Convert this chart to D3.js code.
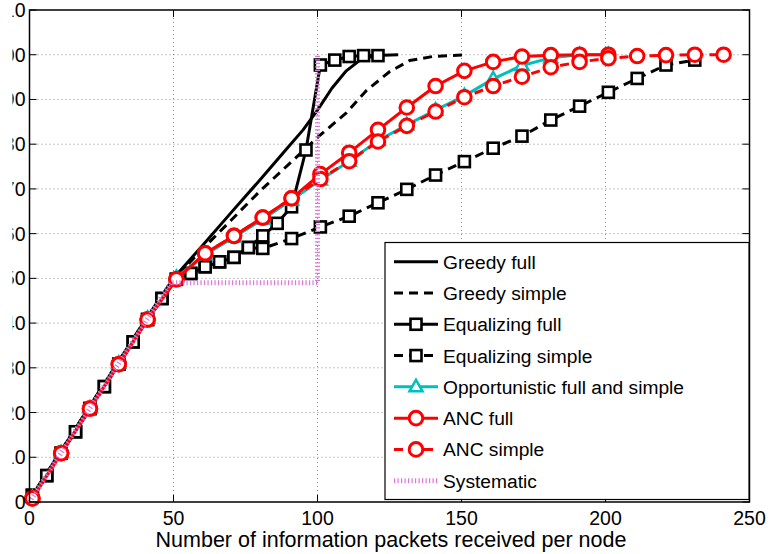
<!DOCTYPE html>
<html lang="en">
<head>
<meta charset="UTF-8" />
<title>Packets received per node</title>
<script src="https://cdn.jsdelivr.net/npm/d3@7"></script>
<style>
    body { margin: 0; background: #fff; overflow: hidden; }
    svg { font-family: "Liberation Sans", Arial, sans-serif; }
</style>
</head>
<body>
<svg id="chart" width="768" height="554"></svg>
<script>
    // ---- data ----
    const xTicks = [0, 50, 100, 150, 200, 250];
    const yTicks = [0, 10, 20, 30, 40, 50, 60, 70, 80, 90, 100, 110];

    const greedyFullX = [0, 10, 20, 30, 40, 50, 60, 70, 80, 90, 95, 100, 105, 110, 115, 120, 128];
    const greedyFullY = [0.5, 10.5, 20.5, 30.5, 40.5, 50, 57.3, 64.7, 72, 79.5, 83.2, 87.6, 92.5, 96.4, 98.9, 99.8, 100];

    const greedySimpleX = [0, 10, 20, 30, 40, 50, 60, 70, 80, 90, 100, 110, 117, 125, 132, 140, 152];
    const greedySimpleY = [0.5, 10.5, 20.5, 30.5, 40.5, 49.8, 56.5, 63, 69.5, 75.5, 81.5, 87, 92, 96.2, 98.7, 99.6, 100];

    const eqFullX = [1, 6, 11, 16, 21, 26, 31, 36, 41, 46, 51, 56, 61, 66, 71, 76, 81, 86, 91, 96, 101, 106, 111, 116, 121];
    const eqFullY = [1.5, 5.9, 10.9, 15.7, 20.9, 25.8, 30.8, 35.8, 40.8, 45.5, 49.8, 51.1, 52.6, 53.7, 54.7, 56.9, 59.5, 62.3, 66, 78.7, 97.7, 98.8, 99.6, 99.8, 99.8];

    const eqSimpleX = [1, 6, 11, 16, 21, 26, 31, 36, 41, 46, 51, 56, 61, 66, 71, 76,
        81, 91, 101, 111, 121, 131, 141, 151, 161, 171, 181, 191, 201, 211, 221, 231];
    const eqSimpleY = [1.5, 5.9, 10.9, 15.7, 20.9, 25.8, 30.8, 35.8, 40.8, 45.5, 49.8, 51.1, 52.6, 53.7, 54.7, 56.9,
        56.7, 58.9, 61.5, 63.9, 66.9, 69.9, 73.1, 76.1, 79.1, 81.8, 85.4, 88.5, 91.6, 94.7, 97.7, 98.8];

    const oppX = [1, 11, 21, 31, 41, 51, 61, 71, 81, 91, 101, 111, 121, 131, 141, 151, 161, 171, 181, 191, 201];
    const oppY = [1, 11, 21, 31, 41, 50.2, 55.3, 59.2, 63.2, 67.5, 72, 76.2, 80.8, 84.3, 87.6, 90.8, 94.6, 97.6, 99.3, 100, 100];

    const ancFullX = [1, 11, 21, 31, 41, 51, 61, 71, 81, 91, 101, 111, 121, 131, 141, 151, 161, 171, 181, 191, 201];
    const ancFullY = [0.8, 10.9, 20.9, 30.8, 40.8, 49.8, 55.6, 59.5, 63.6, 67.9, 73.3, 78.1, 83.2, 88.2, 93, 96.4, 98.4, 99.6, 99.9, 100, 100];

    const ancSimpleX = [1, 11, 21, 31, 41, 51, 61, 71, 81, 91, 101, 111, 121, 131, 141, 151, 161, 171, 181, 191, 201, 211, 221, 231, 241];
    const ancSimpleY = [0.8, 10.9, 20.9, 30.8, 40.8, 49.8, 55.6, 59.5, 63.6, 67.9, 72.2, 76.2, 80.6, 84.1, 87.3, 90.5, 93, 95.1, 97.2, 98.4, 99.2, 99.7, 99.9, 100, 100];

    const systematicX = [0, 49, 100, 100];
    const systematicY = [0, 49, 49, 100];

    const seriesNames = ["Greedy full", "Greedy simple", "Equalizing full", "Equalizing simple",
        "Opportunistic full and simple", "ANC full", "ANC simple", "Systematic"];

    // ---- styles ----
    const DASH = "9,6";
    const CYAN = "#00bfbf";
    const RED = "#ff0000";
    const MAGENTA = "#dd77dd";

    const series = [
        { name: seriesNames[0], xs: greedyFullX, ys: greedyFullY, color: "#000", dash: null, marker: null },
        { name: seriesNames[1], xs: greedySimpleX, ys: greedySimpleY, color: "#000", dash: DASH, marker: null },
        { name: seriesNames[2], xs: eqFullX, ys: eqFullY, color: "#000", dash: null, marker: "square" },
        { name: seriesNames[3], xs: eqSimpleX, ys: eqSimpleY, color: "#000", dash: DASH, marker: "square" },
        { name: seriesNames[4], xs: oppX, ys: oppY, color: CYAN, dash: null, marker: "triangle" },
        { name: seriesNames[5], xs: ancFullX, ys: ancFullY, color: RED, dash: null, marker: "circle" },
        { name: seriesNames[6], xs: ancSimpleX, ys: ancSimpleY, color: RED, dash: DASH, marker: "circle" },
        { name: seriesNames[7], xs: systematicX, ys: systematicY, color: MAGENTA, dash: "1.2,2.3", marker: null, dotted: true }
    ];

    const W = 768, H = 554;
    const plot = { left: 29.5, right: 749.5, top: 10, bottom: 502 };

    const svg = d3.select("#chart");

    const x = d3.scaleLinear().domain([0, 250]).range([plot.left, plot.right]);
    const y = d3.scaleLinear().domain([0, 110]).range([plot.bottom, plot.top]);

    // grid
    const grid = svg.append("g");
    grid.selectAll(".gx").data(xTicks.slice(1, -1)).enter().append("line")
        .attr("x1", d => x(d)).attr("x2", d => x(d))
        .attr("y1", plot.top).attr("y2", plot.bottom)
        .attr("stroke", "#8a8a8a").attr("stroke-width", 1).attr("stroke-dasharray", "1,3");
    grid.selectAll(".gy").data(yTicks.slice(1, -1)).enter().append("line")
        .attr("y1", d => y(d)).attr("y2", d => y(d))
        .attr("x1", plot.left).attr("x2", plot.right)
        .attr("stroke", "#8a8a8a").attr("stroke-width", 1).attr("stroke-dasharray", "1,3");

    // series
    const line = d3.line().x(d => x(d[0])).y(d => y(d[1]));
    const lines = svg.append("g");

    function drawMarker(g, type, color, cx, cy) {
        if (type === "square") {
            g.append("rect").attr("x", cx - 5.5).attr("y", cy - 5.5)
                .attr("width", 11).attr("height", 11)
                .attr("fill", "#fff").attr("stroke", color).attr("stroke-width", 2.6);
        } else if (type === "circle") {
            g.append("circle").attr("cx", cx).attr("cy", cy).attr("r", 6.8)
                .attr("fill", "#fff").attr("stroke", color).attr("stroke-width", 3);
        } else if (type === "triangle") {
            g.append("path")
                .attr("d", `M${cx},${cy - 7}L${cx + 6.5},${cy + 4.5}L${cx - 6.5},${cy + 4.5}Z`)
                .attr("fill", "#fff").attr("stroke", color).attr("stroke-width", 2.5)
                .attr("stroke-linejoin", "miter");
        }
    }

    series.forEach(s => {
        const pts = s.xs.map((v, i) => [v, s.ys[i]]);
        lines.append("path")
            .attr("d", line(pts))
            .attr("fill", "none")
            .attr("stroke", s.color)
            .attr("stroke-width", s.dotted ? 5 : 3)
            .attr("stroke-dasharray", s.dash)
            .attr("stroke-linejoin", "round");
        if (s.marker) {
            const mg = lines.append("g");
            pts.forEach(p => drawMarker(mg, s.marker, s.color, x(p[0]), y(p[1])));
        }
    });

    // axes box + ticks
    const axes = svg.append("g");
    axes.append("rect")
        .attr("x", plot.left).attr("y", plot.top)
        .attr("width", plot.right - plot.left).attr("height", plot.bottom - plot.top)
        .attr("fill", "none").attr("stroke", "#000").attr("stroke-width", 1.5);

    xTicks.forEach(t => {
        axes.append("line").attr("x1", x(t)).attr("x2", x(t))
            .attr("y1", plot.bottom).attr("y2", plot.bottom - 7).attr("stroke", "#000");
        axes.append("line").attr("x1", x(t)).attr("x2", x(t))
            .attr("y1", plot.top).attr("y2", plot.top + 7).attr("stroke", "#000");
        axes.append("text").attr("x", x(t)).attr("y", 525)
            .attr("text-anchor", "middle").attr("font-size", 19.5).text(t);
    });

    // the left edge of the original figure was cut off, so the y labels are clipped
    svg.append("clipPath").attr("id", "yclip")
        .append("rect").attr("x", 12.5).attr("y", 0).attr("width", 40).attr("height", H);
    const ylab = axes.append("g").attr("clip-path", "url(#yclip)");
    yTicks.forEach(t => {
        axes.append("line").attr("y1", y(t)).attr("y2", y(t))
            .attr("x1", plot.left).attr("x2", plot.left + 7).attr("stroke", "#000");
        axes.append("line").attr("y1", y(t)).attr("y2", y(t))
            .attr("x1", plot.right).attr("x2", plot.right - 7).attr("stroke", "#000");
        ylab.append("text").attr("x", 25.5).attr("y", y(t) + 7)
            .attr("text-anchor", "end").attr("font-size", 19.5).text(t);
    });

    svg.append("text").attr("x", 391).attr("y", 547)
        .attr("text-anchor", "middle").attr("font-size", 21.5)
        .text("Number of information packets received per node");

    // legend
    const leg = svg.append("g");
    leg.append("rect").attr("x", 385).attr("y", 242.5).attr("width", 364).attr("height", 257)
        .attr("fill", "#fff").attr("stroke", "#000").attr("stroke-width", 1.2);
    const rowY = d3.scaleLinear().domain([0, 7]).range([261.7, 480.7]);
    series.forEach((s, i) => {
        const cy = rowY(i);
        leg.append("line").attr("x1", 394).attr("x2", 438).attr("y1", cy).attr("y2", cy)
            .attr("stroke", s.color).attr("stroke-width", s.dotted ? 5 : 3)
            .attr("stroke-dasharray", s.dash);
        if (s.marker) drawMarker(leg, s.marker, s.color, 416, cy);
        leg.append("text").attr("x", 443).attr("y", cy + 7)
            .attr("font-size", 19.2).text(s.name);
    });
</script>
</body>
</html>
